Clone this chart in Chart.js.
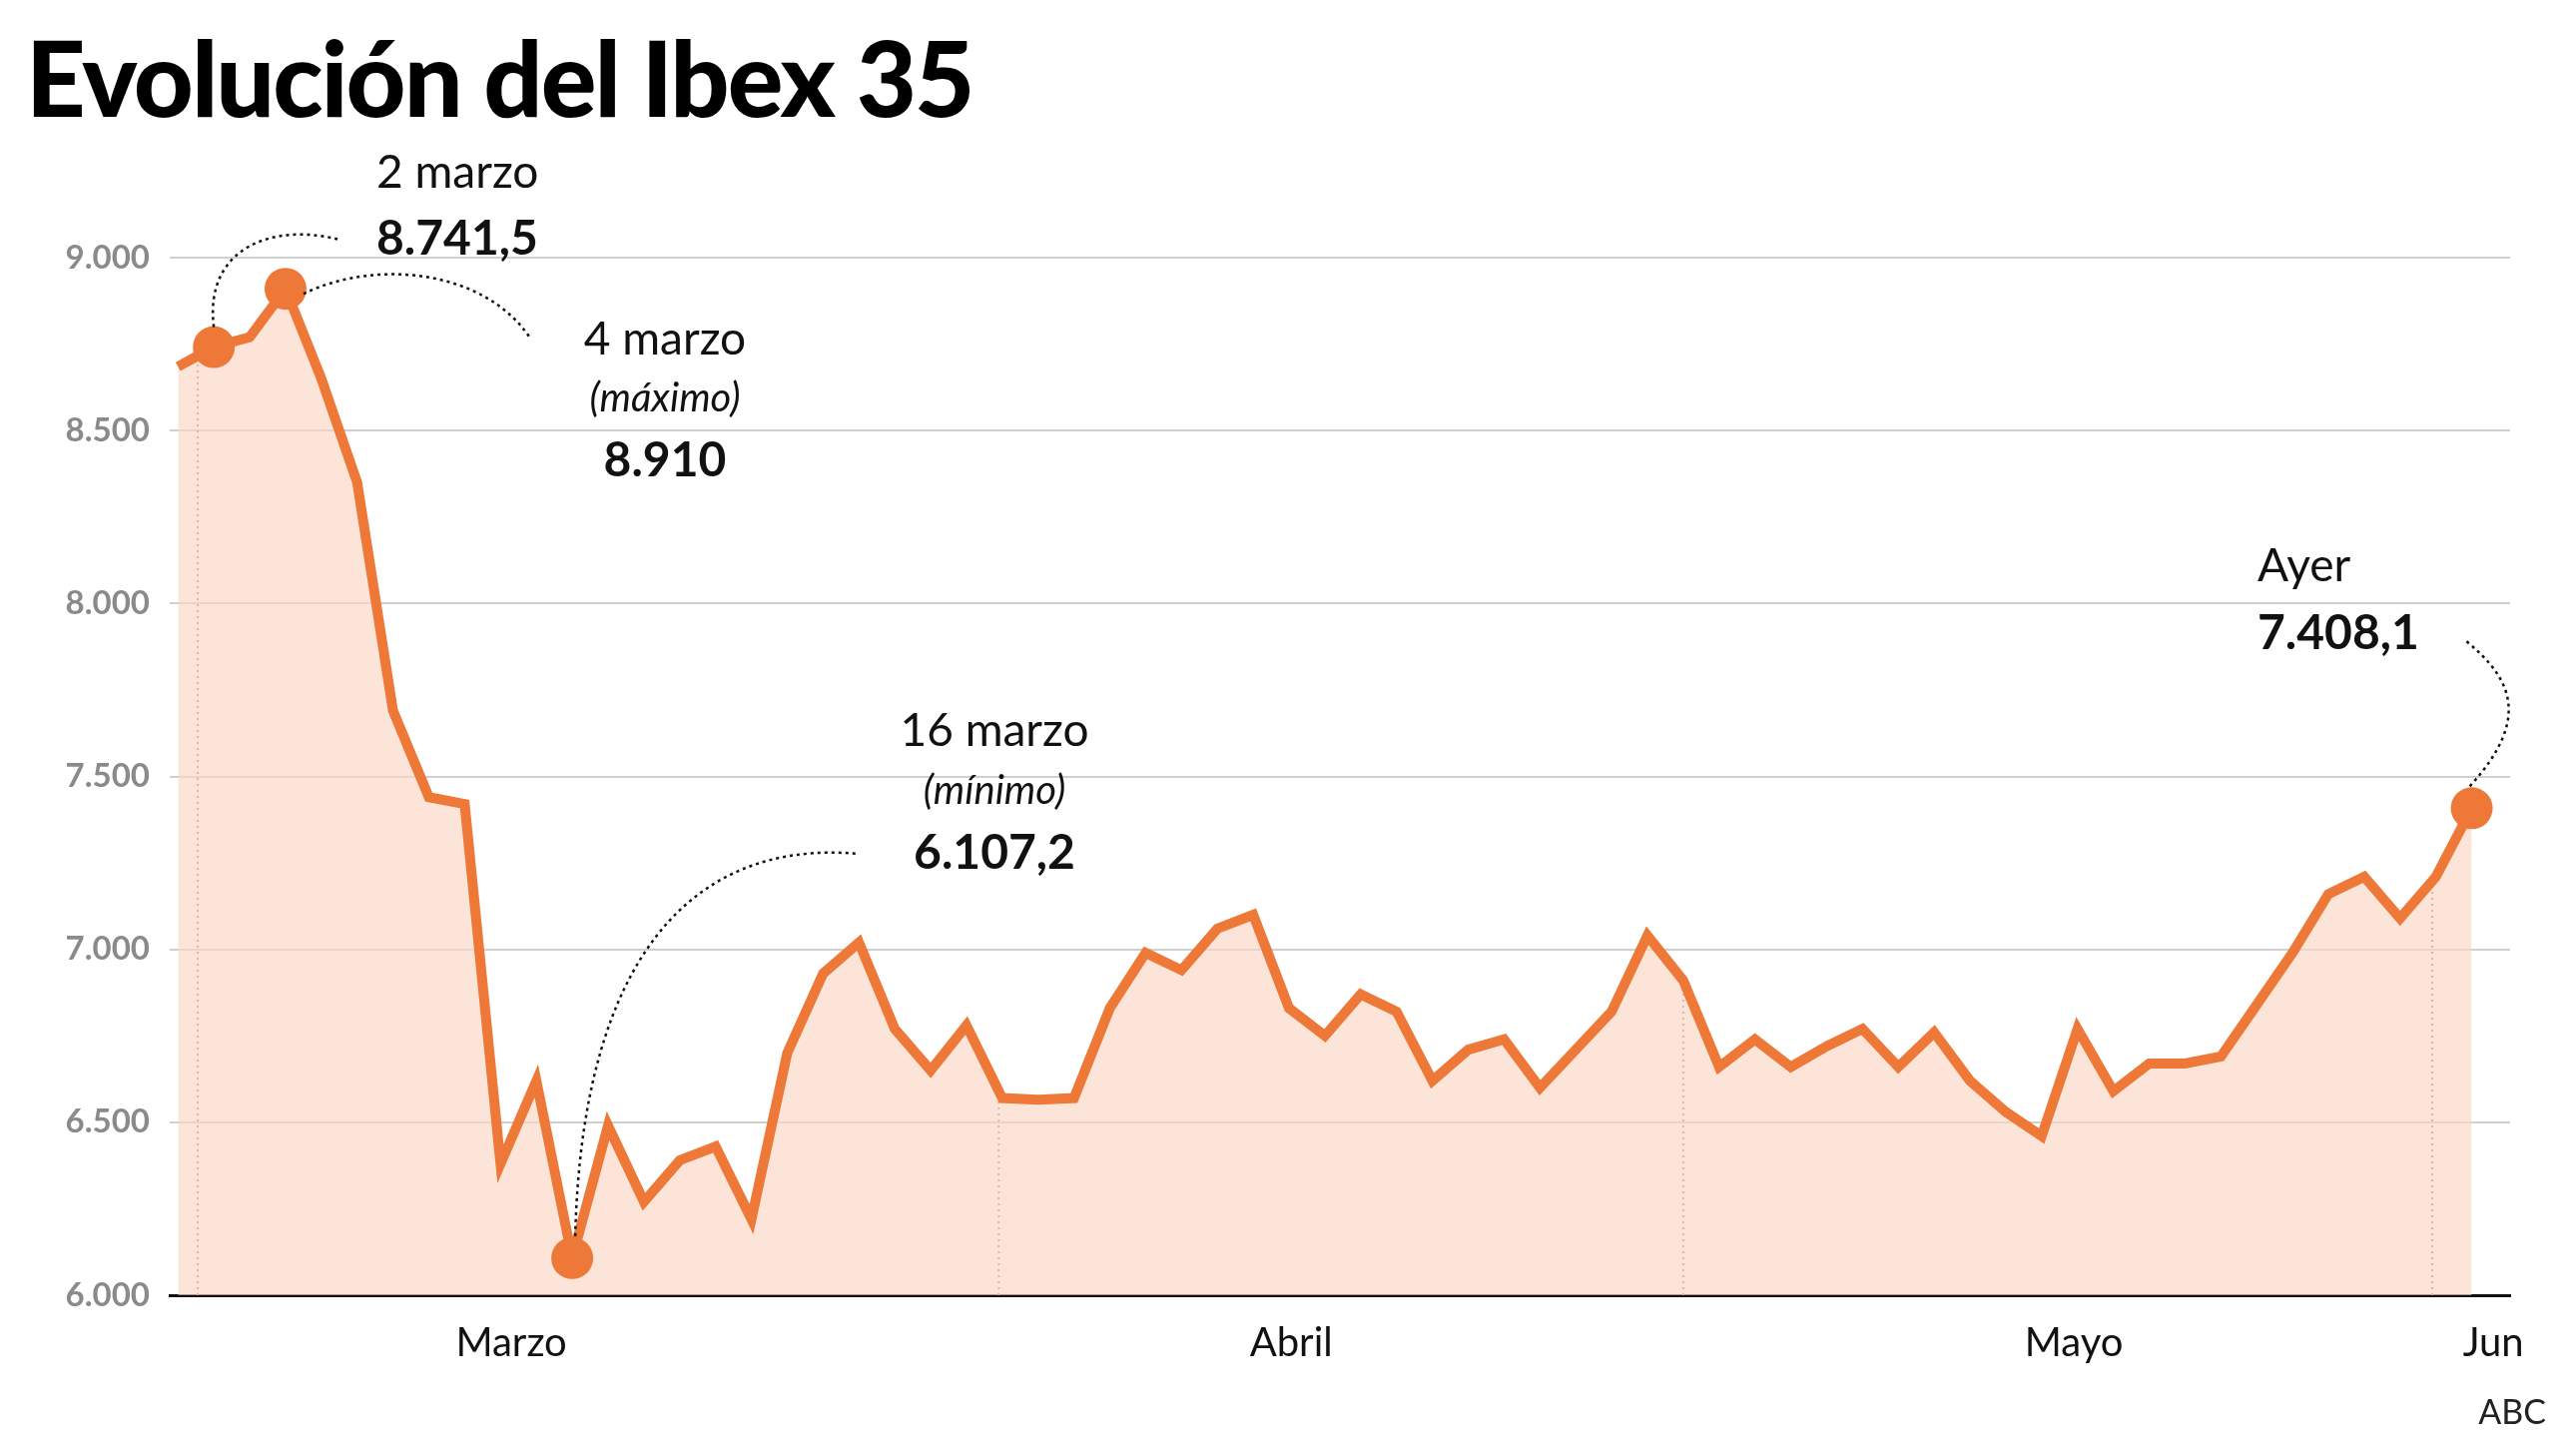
<!DOCTYPE html>
<html>
<head>
<meta charset="utf-8">
<script src="https://cdn.jsdelivr.net/npm/chart.js@4"></script>
<style>
  body { margin: 0; background: #fff; width: 2580px; height: 1455px; overflow: hidden; position: relative; font-family: Lato, sans-serif; }
  h1 { position: absolute; left: 26px; top: 14px; margin: 0; font-size: 104px; font-weight: 900; letter-spacing: -2px; color: #000; z-index: 2; }
  #fuente { position: absolute; right: 30px; top: 1392px; font-size: 34px; color: #222; }
  #grafico { position: absolute; left: 0; top: 0; }
</style>
</head>
<body>
<canvas id="grafico" width="2580" height="1455"></canvas>
<h1>Evolución del Ibex 35</h1>
<div id="fuente">ABC</div>
<script>
// cierres diarios del Ibex 35 (28 feb - 1 jun)
const valores = [
  8685, 8741.5, 8770, 8910, 8650, 8350, 7690, 7440, 7420, 6380,
  6620, 6107.2, 6490, 6270, 6390, 6430, 6220, 6700, 6930, 7020,
  6770, 6650, 6780, 6570, 6565, 6570, 6830, 6990, 6940, 7060,
  7100, 6830, 6750, 6870, 6820, 6620, 6710, 6740, 6600, 6710,
  6820, 7040, 6910, 6660, 6740, 6660, 6720, 6770, 6660, 6760,
  6620, 6530, 6460, 6770, 6590, 6670, 6670, 6690, 6840, 6990,
  7160, 7210, 7090, 7210, 7408.1
]
const meses = ['Marzo', 'Abril', 'Mayo', 'Jun']
const posMeses = [9.3, 31.06, 52.9, 64.6]
const cortesMes = [0.55, 22.9, 42.0, 62.9]
const destacados = [1, 3, 11, 64]
const ticksY = [6000, 6500, 7000, 7500, 8000, 8500, 9000]

const naranja = '#ee7838'
const puntos = valores.map((v, i) => ({ x: i, y: v }))

const fmt = v => v.toLocaleString('de-DE')

const notas = {
  id: 'notas',
  beforeDatasetsDraw(chart) {
    const { ctx, scales: { x, y }, chartArea } = chart
    ctx.save()
    ctx.strokeStyle = '#888'
    ctx.lineWidth = 2
    ctx.setLineDash([2, 4])
    cortesMes.forEach(c => {
      const px = x.getPixelForValue(c)
      ctx.beginPath()
      ctx.moveTo(px, chartArea.bottom)
      ctx.lineTo(px, y.getPixelForValue(valores[Math.round(c)]))
      ctx.stroke()
    })
    ctx.restore()
  },
  afterDatasetsDraw(chart) {
    const { ctx, scales: { x, y } } = chart
    const p = i => [x.getPixelForValue(i), y.getPixelForValue(valores[i])]
    ctx.save()
    ctx.strokeStyle = '#111'
    ctx.lineWidth = 2.5
    ctx.setLineDash([3, 4])
    const curva = (a, c1, c2, b) => {
      ctx.beginPath()
      ctx.moveTo(a[0], a[1])
      ctx.bezierCurveTo(c1[0], c1[1], c2[0], c2[1], b[0], b[1])
      ctx.stroke()
    }
    let [ax, ay] = p(1)
    curva([ax, ay - 20], [ax - 10, ay - 100], [ax + 60, ay - 125], [340, 240])
    ;[ax, ay] = p(3)
    curva([ax + 18, ay + 5], [ax + 90, ay - 30], [ax + 200, ay - 20], [532, 340])
    ;[ax, ay] = p(11)
    curva([ax + 3, ay - 22], [ax + 10, ay - 300], [ax + 120, ay - 420], [860, 855])
    ;[ax, ay] = p(64)
    curva([ax - 2, ay - 22], [ax + 60, ay - 90], [ax + 40, ay - 130], [2470, 642])
    ctx.setLineDash([])
    ctx.fillStyle = '#111'
    const texto = (t, px, py, font, align) => {
      ctx.font = font
      ctx.textAlign = align
      ctx.textBaseline = 'alphabetic'
      ctx.fillText(t, px, py)
    }
    const normal = '46px Lato'
    const negrita = 'bold 48px Lato'
    const cursiva = 'italic 40px Lato'
    texto('2 marzo', 377, 188, normal, 'left')
    texto('8.741,5', 377, 255, negrita, 'left')
    texto('4 marzo', 666, 355, normal, 'center')
    texto('(máximo)', 666, 412, cursiva, 'center')
    texto('8.910', 666, 477, negrita, 'center')
    texto('16 marzo', 996, 747, normal, 'center')
    texto('(mínimo)', 996, 805, cursiva, 'center')
    texto('6.107,2', 996, 870, negrita, 'center')
    texto('Ayer', 2261, 582, normal, 'left')
    texto('7.408,1', 2261, 650, negrita, 'left')
    ctx.restore()
  }
}

new Chart(document.getElementById('grafico'), {
  type: 'line',
  data: {
    datasets: [{
      data: puntos,
      borderColor: naranja,
      borderWidth: 10,
      backgroundColor: 'rgba(250, 215, 195, 0.65)',
      fill: 'start',
      tension: 0,
      pointRadius: ctx => destacados.includes(ctx.dataIndex) ? 21 : 0,
      pointBackgroundColor: naranja,
      pointBorderWidth: 0,
      pointHoverRadius: 0
    }]
  },
  options: {
    responsive: false,
    animation: false,
    devicePixelRatio: 1,
    layout: { padding: { left: 0, right: 66, top: 258, bottom: 70 } },
    plugins: { legend: { display: false }, tooltip: { enabled: false } },
    scales: {
      x: {
        type: 'linear',
        min: -0.23,
        max: 65.07,
        afterBuildTicks: ax => { ax.ticks = posMeses.map(v => ({ value: v })) },
        ticks: {
          callback: (v, i) => meses[i],
          color: '#111',
          font: { family: 'Lato', size: 40 },
          padding: 16,
          maxRotation: 0,
          autoSkip: false
        },
        grid: { display: false },
        border: { color: '#111', width: 3 }
      },
      y: {
        min: 6000,
        max: 9000,
        afterBuildTicks: ax => { ax.ticks = ticksY.map(v => ({ value: v })) },
        ticks: {
          callback: v => fmt(v),
          color: '#8a8a8a',
          font: { family: 'Lato', size: 33, weight: 'bold' },
          padding: 20
        },
        afterFit: ax => { ax.width = 170 },
        grid: { color: '#cfcfcf', lineWidth: 2, drawTicks: false },
        border: { display: false }
      }
    }
  },
  plugins: [notas]
})
</script>
</body>
</html>
